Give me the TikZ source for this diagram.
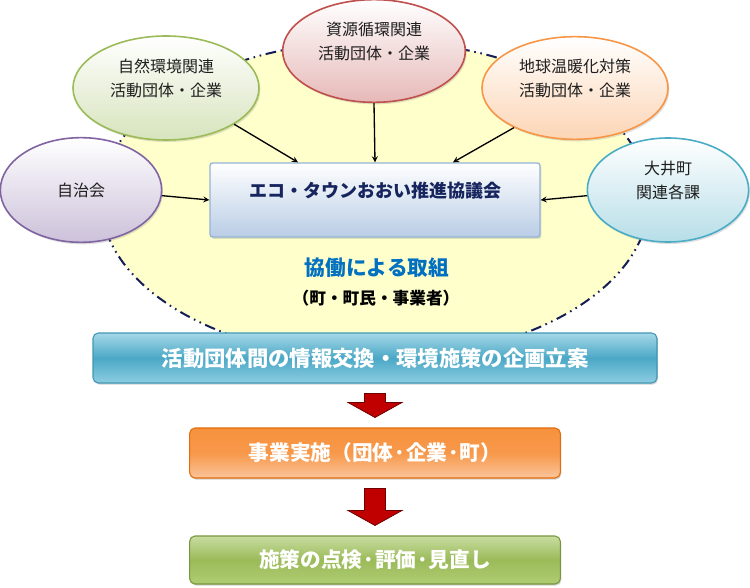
\documentclass[tikz,border=0pt]{standalone}
\usepackage{fontspec}
\setmainfont{Noto Sans CJK JP}
\usetikzlibrary{shapes.geometric,shadows,calc}
\definecolor{areafill}{RGB}{255,255,204}
\definecolor{arealine}{RGB}{20,30,85}
\definecolor{grnline}{RGB}{155,187,89}
\definecolor{grnfill}{RGB}{215,228,189}
\definecolor{redline}{RGB}{192,80,77}
\definecolor{redfill}{RGB}{230,185,184}
\definecolor{orgline}{RGB}{247,150,70}
\definecolor{orgfill}{RGB}{252,213,181}
\definecolor{purline}{RGB}{128,100,162}
\definecolor{purfill}{RGB}{204,193,218}
\definecolor{cyaline}{RGB}{75,172,198}
\definecolor{cyafill}{RGB}{183,222,232}
\definecolor{boxline}{RGB}{149,179,215}
\definecolor{boxfill}{RGB}{185,205,229}
\definecolor{boxtext}{RGB}{23,37,94}
\definecolor{kyodoblue}{RGB}{0,112,192}
\definecolor{arrowred}{RGB}{192,0,0}
\definecolor{arrowdark}{RGB}{110,0,0}
\begin{document}
\begin{tikzpicture}[x=0.75pt, y=-0.75pt, >=stealth,
    ell/.style={ellipse, draw, line width=1.2pt, inner sep=0pt, align=center, text={rgb,255:red,30;green,30;blue,30},
      font=\fontsize{12}{18}\selectfont, drop shadow={opacity=0.25, shadow xshift=1pt, shadow yshift=-1.5pt}},
    lift/.style={text depth=16pt},
    bar/.style={rectangle, rounded corners=4pt, draw, line width=0.8pt, text=white, inner sep=0pt,
      font=\bfseries\fontsize{15.5}{18}\selectfont, drop shadow={opacity=0.35, shadow xshift=0.8pt, shadow yshift=-1.2pt}},
    conn/.style={->, line width=1pt},
    redarrow/.style={fill=arrowred, draw=arrowdark, line width=0.6pt}]
  \useasboundingbox (0,0) rectangle (750,588);
  % area of cooperation
  \node[ellipse, fill=areafill, draw=arealine, line width=1.5pt, inner sep=0pt, minimum width=411pt, minimum height=238.5pt,
    dash pattern=on 8pt off 3.5pt on 1.2pt off 3.5pt on 1.2pt off 3.5pt] (area) at (375,200) {};
  % member groups
  \node[ell, lift, draw=grnline, top color=white, bottom color=grnfill, minimum width=139.5pt, minimum height=78pt] (green) at (166,88) {自然環境関連\\活動団体・企業};
  \node[ell, lift, draw=redline, top color=white, bottom color=redfill, minimum width=137pt, minimum height=77pt] (red) at (374,51) {資源循環関連\\活動団体・企業};
  \node[ell, lift, draw=orgline, top color=white, bottom color=orgfill, minimum width=139.5pt, minimum height=77pt] (orange) at (575,88) {地球温暖化対策\\活動団体・企業};
  \node[ell, draw=purline, top color=white, bottom color=purfill, minimum width=121pt, minimum height=78.5pt] (purple) at (81,190) {自治会};
  \node[ell, lift, draw=cyaline, top color=white, bottom color=cyafill, minimum width=121pt, minimum height=78pt] (cyan) at (668,190) {大井町\\関連各課};
  % council
  \node[rectangle, rounded corners=2pt, lift, draw=boxline, line width=1pt, top color=white, bottom color=boxfill,
    minimum width=247.5pt, minimum height=55.5pt, text=boxtext, font=\bfseries\fontsize{13.5}{16}\selectfont,
    drop shadow={opacity=0.25, shadow xshift=1pt, shadow yshift=-1.5pt}] (box) at (375,200) {エコ・タウンおおい推進協議会};
  \draw[conn] (green.-28) -- ($(box.north)+(-77,0)$);
  \draw[conn] (red.south) -- (box.north);
  \draw[conn] (orange.213) -- ($(box.north)+(78,0)$);
  \draw[conn] (purple.-4) -- (box.west);
  \draw[conn] (cyan.184) -- (box.east);
  \node[text=kyodoblue, font=\bfseries\fontsize{15.5}{18}\selectfont] (kyodo) at (377,268) {協働による取組};
  \node[font=\bfseries\fontsize{12.5}{15}\selectfont] (members) at (376,298) {（町・町民・事業者）};
  % steps
  \node[bar, draw={rgb,255:red,66;green,150;blue,180}, top color={rgb,255:red,165;green,216;blue,232}, bottom color={rgb,255:red,140;green,205;blue,225},
    middle color={rgb,255:red,75;green,168;blue,198}, minimum width=423pt, minimum height=37.5pt, font=\bfseries\fontsize{16}{18}\selectfont] (plan) at (375,358) {活動団体間の情報交換・環境施策の企画立案};
  \node[bar, draw={rgb,255:red,228;green,108;blue,10}, top color={rgb,255:red,246;green,146;blue,62}, bottom color={rgb,255:red,251;green,196;blue,155},
    middle color={rgb,255:red,247;green,152;blue,74}, minimum width=278pt, minimum height=37.5pt] (action) at (375,453) {事業実施（団体·企業·町）};
  \node[bar, draw={rgb,255:red,120;green,150;blue,60}, top color={rgb,255:red,200;green,220;blue,160}, bottom color={rgb,255:red,175;green,205;blue,115},
    middle color={rgb,255:red,155;green,187;blue,89}, minimum width=278pt, minimum height=36pt] (check) at (375,560) {施策の点検·評価·見直し};
  \foreach \a/\b in {plan/action, action/check}
    \draw[redarrow] ($(\a.south)+(-10.5,10)$) -- ($(\a.south)+(10.5,10)$) -- ($(\b.north)+(10.5,-25)$) -- ($(\b.north)+(27,-25)$)
      -- ($(\b.north)+(0,-10)$) -- ($(\b.north)+(-27,-25)$) -- ($(\b.north)+(-10.5,-25)$) -- cycle;
\end{tikzpicture}
\end{document}
